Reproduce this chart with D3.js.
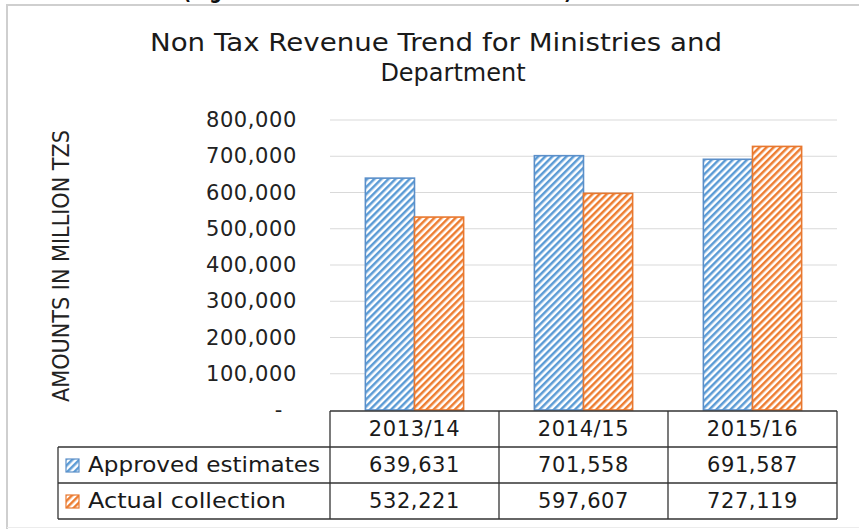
<!DOCTYPE html>
<html>
<head>
<meta charset="utf-8">
<script src="https://cdn.jsdelivr.net/npm/d3@7"></script>
<style>
  html, body { margin: 0; padding: 0; background: #ffffff; }
  svg { display: block; }
</style>
</head>
<body>
<svg id="chart" width="859" height="529"></svg>
<script>
// Non tax revenue: approved estimates vs actual collection (million TZS)
const categories = ["2013/14", "2014/15", "2015/16"];
const seriesNames = ["Approved estimates", "Actual collection"];
const approved = [639631, 701558, 691587];
const actual = [532221, 597607, 727119];
const yTicks = [0, 100000, 200000, 300000, 400000, 500000, 600000, 700000, 800000];
const chartTitle = ["Non Tax Revenue  Trend for Ministries  and", "Department"];
const yTitle = "AMOUNTS IN MILLION TZS";
const captionAbove = "(Figure 2: Non Tax Revenue Collection)";

const seriesValues = [approved, actual];
const stripeColors = ["#5b9bd5", "#ed7d31"];
const edgeColors = ["#5b8fc9", "#e8782f"];

const svg = d3.select("#chart");
const font = "'DejaVu Sans', Verdana, sans-serif";

// hatch fills for the two series
const defs = svg.append("defs");
stripeColors.forEach((c, i) => {
  const p = defs.append("pattern")
    .attr("id", "hatch" + i)
    .attr("patternUnits", "userSpaceOnUse")
    .attr("width", 5).attr("height", 5)
    .attr("patternTransform", "rotate(45)");
  p.append("rect").attr("width", 5).attr("height", 5).attr("fill", "#ffffff");
  p.append("rect").attr("x", 0).attr("y", 0).attr("width", 2.5).attr("height", 5).attr("fill", c);
});

// caption of the page above the chart box (runs off the top edge)
svg.append("text")
  .attr("x", 183).attr("y", -1)
  .attr("font-family", font).attr("font-weight", "bold").attr("font-size", 22)
  .attr("textLength", 389).attr("lengthAdjust", "spacingAndGlyphs")
  .attr("fill", "#111")
  .text(captionAbove);

// chart frame: top and left edges, faint bottom edge
const frame = svg.append("g").attr("fill", "none");
frame.append("path")
  .attr("d", "M7,529 V5 H859")
  .attr("stroke", "#cfcfcf").attr("stroke-width", 2);
frame.append("line")
  .attr("x1", 7).attr("x2", 859).attr("y1", 527.5).attr("y2", 527.5)
  .attr("stroke", "#ececec").attr("stroke-width", 1);

// title
const titleG = svg.append("g").attr("font-family", font).attr("fill", "#1a1a1a").attr("font-size", 24);
titleG.append("text").attr("x", 436).attr("y", 51).attr("text-anchor", "middle")
  .attr("textLength", 572).attr("lengthAdjust", "spacingAndGlyphs")
  .text(chartTitle[0]);
titleG.append("text").attr("x", 453).attr("y", 81).attr("text-anchor", "middle")
  .text(chartTitle[1]);

// scales
const plotLeft = 330, plotRight = 837;
const y = d3.scaleLinear().domain([0, 800000]).range([410, 120]);
const x = d3.scaleBand().domain(categories).range([plotLeft, plotRight]).paddingInner(0).paddingOuter(0);
const xs = d3.scaleBand().domain(seriesNames).range([0, x.bandwidth()]).paddingInner(0).paddingOuter(0.72);

// gridlines
svg.append("g")
  .selectAll("line")
  .data(yTicks.filter(d => d > 0))
  .join("line")
  .attr("x1", plotLeft).attr("x2", plotRight)
  .attr("y1", d => y(d)).attr("y2", d => y(d))
  .attr("stroke", "#d9d9d9").attr("stroke-width", 1.2);

// y axis labels
const fmt = d3.format(",");
const yAxis = d3.axisLeft(y).tickValues(yTicks).tickSize(0).tickPadding(0)
  .tickFormat(d => d === 0 ? "-" : fmt(d));
const yG = svg.append("g").attr("transform", "translate(297,0)").call(yAxis);
yG.select(".domain").remove();
yG.selectAll("text")
  .attr("font-family", font).attr("font-size", 21).attr("fill", "#222")
  .attr("letter-spacing", 0.6)
  .attr("dx", d => d === 0 ? -14 : 0);

// y axis title
svg.append("text")
  .attr("transform", "translate(69,266) rotate(-90)")
  .attr("text-anchor", "middle")
  .attr("font-family", "'Liberation Sans Narrow', 'DejaVu Sans Condensed', sans-serif")
  .attr("font-size", 23).attr("fill", "#222")
  .attr("textLength", 272).attr("lengthAdjust", "spacingAndGlyphs")
  .text(yTitle);

// bars
const groups = svg.append("g")
  .selectAll("g")
  .data(seriesNames)
  .join("g");
groups.each(function(name, si) {
  d3.select(this).selectAll("rect")
    .data(categories.map((c, ci) => ({ c, v: seriesValues[si][ci] })))
    .join("rect")
    .attr("x", d => x(d.c) + xs(name))
    .attr("width", xs.bandwidth())
    .attr("y", d => y(d.v))
    .attr("height", d => y(0) - y(d.v))
    .attr("fill", `url(#hatch${si})`)
    .attr("stroke", edgeColors[si]).attr("stroke-width", 1.6);
});

// data table under the plot
const rowTop = [411, 447, 483];
const rowH = 36;
const tableLeft = 58;
const tbl = svg.append("g").attr("stroke", "#333").attr("stroke-width", 1.3);
// horizontal rules
tbl.append("line").attr("x1", plotLeft).attr("x2", plotRight).attr("y1", rowTop[0]).attr("y2", rowTop[0]);
[rowTop[1], rowTop[2], rowTop[2] + rowH].forEach(yy =>
  tbl.append("line").attr("x1", tableLeft).attr("x2", plotRight).attr("y1", yy).attr("y2", yy));
// vertical rules
tbl.append("line").attr("x1", tableLeft).attr("x2", tableLeft).attr("y1", rowTop[1]).attr("y2", rowTop[2] + rowH);
categories.forEach(c =>
  tbl.append("line").attr("x1", x(c)).attr("x2", x(c)).attr("y1", rowTop[0]).attr("y2", rowTop[2] + rowH));
tbl.append("line").attr("x1", plotRight).attr("x2", plotRight).attr("y1", rowTop[0]).attr("y2", rowTop[2] + rowH);

const txt = svg.append("g").attr("font-family", font).attr("font-size", 21).attr("fill", "#1a1a1a")
  .attr("letter-spacing", 0.6);
// header row
txt.selectAll(".hdr").data(categories).join("text").attr("class", "hdr")
  .attr("x", d => x(d) + x.bandwidth() / 2).attr("y", rowTop[0] + 25)
  .attr("text-anchor", "middle").text(d => d);
// value rows
seriesNames.forEach((name, si) => {
  txt.selectAll(".v" + si).data(categories).join("text").attr("class", "v" + si)
    .attr("x", d => x(d) + x.bandwidth() / 2).attr("y", rowTop[si + 1] + 25)
    .attr("text-anchor", "middle")
    .text((d, ci) => fmt(seriesValues[si][ci]));
  // legend key and series name
  svg.append("rect")
    .attr("x", 66).attr("y", rowTop[si + 1] + 12).attr("width", 13).attr("height", 13)
    .attr("fill", `url(#hatch${si})`).attr("stroke", edgeColors[si]).attr("stroke-width", 1.2);
  txt.append("text")
    .attr("x", 88).attr("y", rowTop[si + 1] + 25)
    .attr("letter-spacing", 0)
    .attr("textLength", si === 0 ? 232 : 198).attr("lengthAdjust", "spacingAndGlyphs")
    .text(name);
});
</script>
</body>
</html>
